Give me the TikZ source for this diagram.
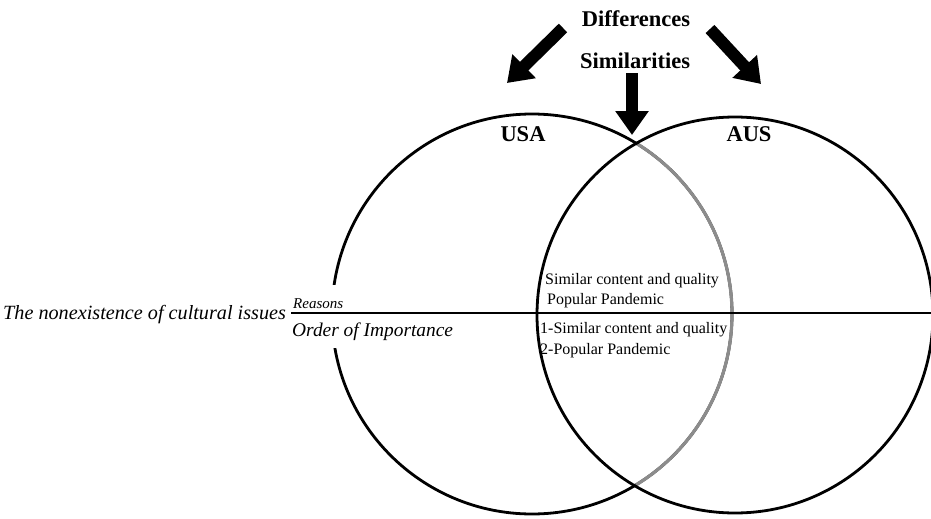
\documentclass[tikz,border=0pt]{standalone}
\usepackage{fontspec}
\setmainfont{Liberation Serif}
\usetikzlibrary{arrows.meta}
\begin{document}
\begin{tikzpicture}[x=1pt,y=-1pt,
  ring/.style={line width=2.8pt},
  softring/.style={line width=3.2pt, black!45},
  bigarrow/.style={line width=12pt, -{Triangle[width=32pt,length=24pt]}},
  headlabel/.style={inner sep=0pt, font=\fontsize{22.5}{26}\selectfont\bfseries},
  country/.style={inner sep=0pt, font=\fontsize{22.5}{26}\selectfont\bfseries},
  itlabel/.style={inner sep=0pt, anchor=base west, font=\fontsize{20.2}{24}\selectfont\itshape},
  orderlabel/.style={fill=white, inner xsep=0pt, inner ysep=8pt, anchor=base west, font=\fontsize{19.4}{23}\selectfont\itshape},
  smallit/.style={fill=white, inner xsep=0pt, inner ysep=13pt, anchor=base west, font=\fontsize{15}{18}\selectfont\itshape},
  item/.style={inner sep=0pt, anchor=base west, font=\fontsize{16}{19}\selectfont}]
\useasboundingbox (0,0) rectangle (931,519);

% the two circles; the part of USA lying inside AUS is lighter
\coordinate (usaC) at (532,314);
\coordinate (ausC) at (735,315);
\draw[ring] (usaC) circle[radius=200];
\begin{scope}
  \clip (ausC) circle[radius=196.6];
  \draw[softring] (usaC) circle[radius=200];
\end{scope}
\draw[ring] (ausC) circle[radius=198];

% labels on the left, set on white so they mask the circle
\node[itlabel] (issue) at (3,319) {The nonexistence of cultural issues};
\node[smallit] (reasons) at (293,308) {Reasons};
\node[orderlabel] (order) at (292,336) {Order of Importance};

% dividing line
\coordinate (lineL) at (291,313);
\coordinate (lineR) at (931,313);
\draw[line width=1.3pt] (lineL) -- (lineR);

% headings
\node[headlabel] (diff) at (636,19) {Differences};
\node[headlabel] (sim) at (635,61) {Similarities};
\node[country] (usa) at (523,134) {USA};
\node[country] (aus) at (749,134) {AUS};

% block arrows
\coordinate (dL) at (563,28);
\coordinate (usaTip) at (507,83);
\coordinate (dR) at (710,29);
\coordinate (ausTip) at (761,84);
\coordinate (sTop) at (632,73);
\coordinate (sTip) at (632,135);
\draw[bigarrow] (dL) -- (usaTip);
\draw[bigarrow] (dR) -- (ausTip);
\draw[bigarrow] (sTop) -- (sTip);

% overlap contents
\node[item] (r1) at (545,284) {Similar content and quality};
\node[item] (r2) at (547,304) {Popular Pandemic};
\node[item] (o1) at (540,333) {1-Similar content and quality};
\node[item] (o2) at (540,354) {2-Popular Pandemic};
\end{tikzpicture}
\end{document}
